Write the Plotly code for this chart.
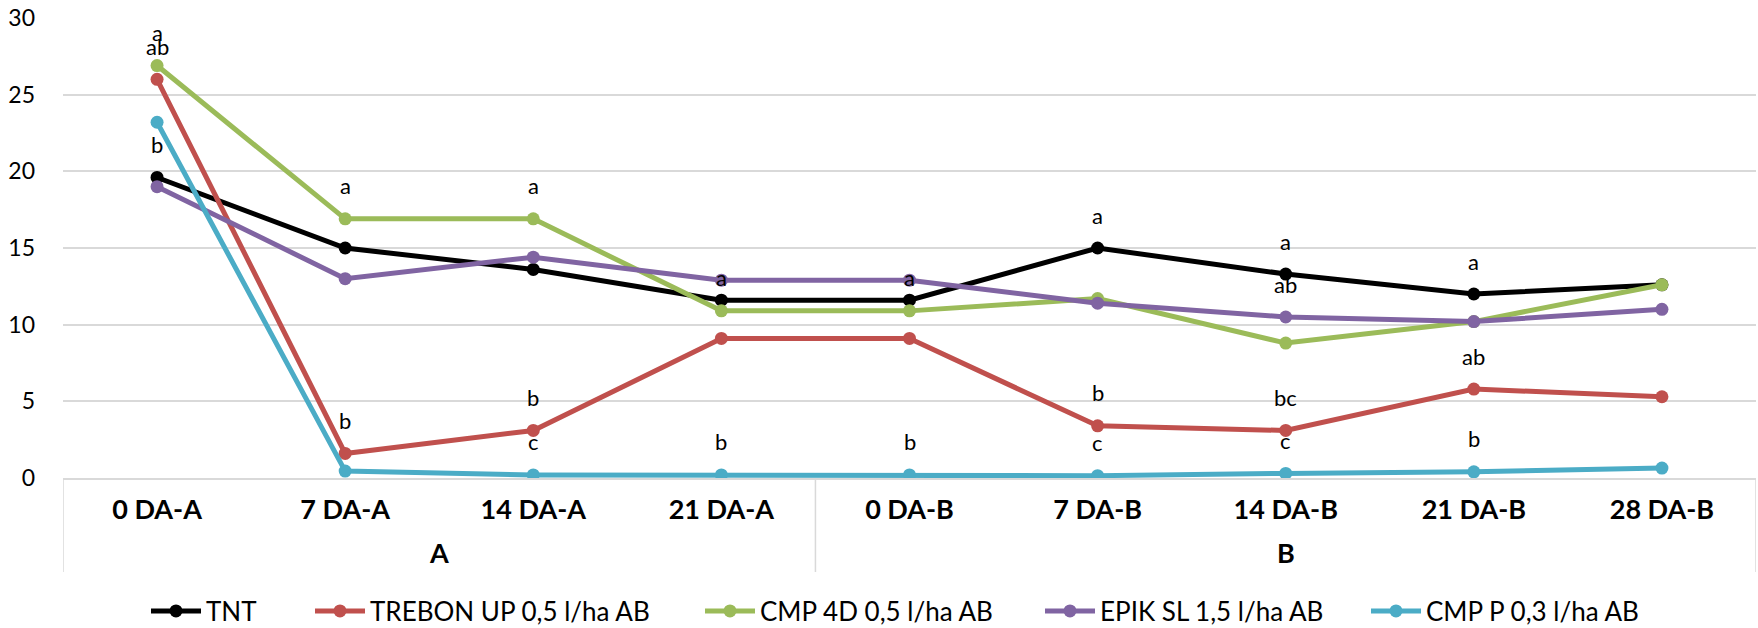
import plotly.graph_objects as go

groups = ["A", "A", "A", "A", "B", "B", "B", "B", "B"]
categories = ["0 DA-A", "7 DA-A", "14 DA-A", "21 DA-A", "0 DA-B", "7 DA-B", "14 DA-B", "21 DA-B", "28 DA-B"]

series_names = ["TNT", "TREBON UP 0,5 l/ha AB", "CMP 4D 0,5 l/ha AB", "EPIK SL 1,5 l/ha AB", "CMP P 0,3 l/ha AB"]

tnt = [19.6, 15.0, 13.6, 11.6, 11.6, 15.0, 13.3, 12.0, 12.6]
trebon = [26.0, 1.6, 3.1, 9.1, 9.1, 3.4, 3.1, 5.8, 5.3]
cmp4d = [26.9, 16.9, 16.9, 10.9, 10.9, 11.7, 8.8, 10.2, 12.6]
epik = [19.0, 13.0, 14.4, 12.9, 12.9, 11.4, 10.5, 10.2, 11.0]
cmpp = [23.2, 0.45, 0.2, 0.2, 0.2, 0.15, 0.3, 0.4, 0.65]

tnt_labels = ["b", "", "", "", "", "a", "a", "a", ""]
trebon_labels = ["ab", "b", "b", "", "", "b", "bc", "ab", ""]
cmp4d_labels = ["a", "a", "a", "a", "a", "", "", "", ""]
epik_labels = ["", "", "", "", "", "", "ab", "", ""]
cmpp_labels = ["", "", "c", "b", "b", "c", "c", "b", ""]

colors = ["#000000", "#c0504d", "#9bbb59", "#8064a2", "#4bacc6"]

all_values = [tnt, trebon, cmp4d, epik, cmpp]
all_labels = [tnt_labels, trebon_labels, cmp4d_labels, epik_labels, cmpp_labels]

# layout geometry (pixels)
FONT = "Lato"
W, H = 1758, 628
ML, MR, MT, MB = 63, 2, 18, 150
PLOT_W = W - ML - MR
PLOT_H = H - MT - MB
AXIS_Y = H - MB
legend_start_px = [146, 310, 700, 1040, 1366]
LEGEND_Y_PX = 611
GROUP_LABEL_Y_PX = 552
DIVIDER_END_PX = 572

fig = go.Figure()
for k, (name, vals, col) in enumerate(zip(series_names, all_values, colors)):
    fig.add_trace(go.Scatter(
        x=categories, y=vals, name=name, mode="lines+markers",
        line=dict(color=col, width=5),
        marker=dict(color=col, size=13),
        legend="legend" if k == 0 else f"legend{k + 1}",
    ))

# significance letters above points
for vals, labs in zip(all_values, all_labels):
    for cat, v, lab in zip(categories, vals, labs):
        if lab:
            fig.add_annotation(x=cat, y=v, text=lab, showarrow=False, yshift=33,
                               xanchor="center", yanchor="middle",
                               font=dict(family=FONT, size=22, color="#000000"))

# group labels and dividers (derived from the groups list)
unique_groups = []
for g in groups:
    if g not in unique_groups:
        unique_groups.append(g)
boundaries = [-0.5]
for g in unique_groups:
    idx = [i for i, gg in enumerate(groups) if gg == g]
    fig.add_annotation(x=(idx[0] + idx[-1]) / 2, y=-(GROUP_LABEL_Y_PX - AXIS_Y) / PLOT_H,
                       xref="x", yref="paper",
                       text=g, showarrow=False, xanchor="center", yanchor="middle",
                       font=dict(family=FONT, size=27, color="#000000", weight="bold"))
    boundaries.append(idx[-1] + 0.5)
for b in boundaries:
    fig.add_shape(type="line", x0=b, x1=b, xref="x", yref="paper", y0=0,
                  y1=-(DIVIDER_END_PX - AXIS_Y) / PLOT_H,
                  line=dict(color="#d9d9d9", width=1.5))

legend_common = dict(orientation="h", xanchor="left", yanchor="middle",
                     y=-(LEGEND_Y_PX - AXIS_Y) / PLOT_H,
                     font=dict(family=FONT, size=26, color="#000000"),
                     itemwidth=50, bgcolor="rgba(0,0,0,0)", borderwidth=0)
legends = {}
for k, px in enumerate(legend_start_px):
    key = "legend" if k == 0 else f"legend{k + 1}"
    legends[key] = dict(legend_common, x=(px - ML) / PLOT_W)

fig.update_layout(
    width=W, height=H,
    margin=dict(l=ML, r=MR, t=MT, b=MB, autoexpand=False),
    paper_bgcolor="white", plot_bgcolor="white",
    font=dict(family=FONT, size=25, color="#000000"),
    showlegend=True,
    **legends,
)
fig.update_yaxes(range=[0, 30], dtick=5, showgrid=True, gridcolor="#d9d9d9", gridwidth=2,
                 zeroline=False, showline=False, ticks="", ticklabelstandoff=27, automargin=False,
                 tickfont=dict(family=FONT, size=23, color="#000000"))
fig.update_xaxes(type="category", range=[-0.5, len(categories) - 0.5], showgrid=False,
                 showline=True, linecolor="#d9d9d9", linewidth=2,
                 ticks="", ticklabelstandoff=7, automargin=False,
                 tickfont=dict(family=FONT, size=27, color="#000000", weight="bold"))

fig.write_html("out.html", config={"displayModeBar": False},
               post_script="document.body.style.margin='0';document.body.style.overflow='hidden';")
